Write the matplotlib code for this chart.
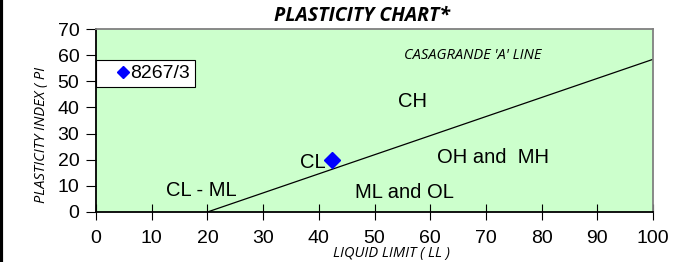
import numpy as np
import matplotlib.pyplot as plt

# sample point
sample_name = '8267/3'
sample_ll = [42.4]
sample_pi = [19.9]

# Casagrande A-line: PI = 0.73 (LL - 20)
aline_ll = [20, 100]
aline_pi = [0, 58.4]

zone_labels = ['CH', 'CL', 'OH and  MH', 'ML and OL', 'CL - ML']
zone_x = [56.8, 39.0, 71.2, 55.3, 18.9]
zone_y = [42.1, 19.1, 21.0, 7.6, 8.4]

xticks = np.arange(0, 101, 10)
yticks = np.arange(0, 71, 10)

plt.rcParams['font.family'] = ['Liberation Sans', 'DejaVu Sans']

fig = plt.figure(figsize=(6.97, 2.62), dpi=100)
ax = fig.add_axes([96/697, 1 - 212/262, 557/697, 183/262])
ax.set_facecolor('#CCFFCC')

ax.plot(aline_ll, aline_pi, color='black', lw=0.9)
ax.plot(sample_ll, sample_pi, 'D', color='#0000FF', ms=8, label=sample_name, zorder=5)

for t, x, y in zip(zone_labels, zone_x, zone_y):
    ax.text(x, y, t, fontsize=14.5, ha='center', va='center')
ax.text(67.7, 60, "CASAGRANDE 'A' LINE", fontsize=10.5, style='italic',
        ha='center', va='center', family='Open Sans')

ax.set_xlim(0, 100)
ax.set_ylim(0, 70)
ax.set_xticks(xticks)
ax.set_yticks(yticks)
ax.tick_params(axis='x', direction='inout', length=12, labelsize=14, pad=7)
ax.tick_params(axis='y', direction='out', length=7, labelsize=14, pad=5)
for s in ['left', 'bottom']:
    ax.spines[s].set_color('black')
    ax.spines[s].set_linewidth(1.3)
for s in ['top', 'right']:
    ax.spines[s].set_color('#808080')
    ax.spines[s].set_linewidth(1.3)

fig.text(362/697, 1 - 16/262, 'PLASTICITY CHART*', fontsize=14, fontweight='bold',
         style='italic', family='Open Sans', ha='center', va='center')
fig.text(391/697, 1 - 253/262, 'LIQUID LIMIT ( LL )', fontsize=10.5, style='italic',
         ha='center', va='center', family='Open Sans')
fig.text(42/697, 1 - 135/262, 'PLASTICITY INDEX ( PI', fontsize=10.5, style='italic',
         ha='center', va='center', rotation=90, family='Open Sans')

leg = ax.legend(loc='upper left', bbox_to_anchor=(0, (212 - 60) / 183), fontsize=14,
                frameon=True, fancybox=False, handlelength=2.3, handletextpad=-0.8,
                borderpad=0.25, borderaxespad=0, markerscale=0.75)
leg.get_frame().set_edgecolor('black')
leg.get_frame().set_linewidth(0.8)
leg.get_frame().set_alpha(1)

# left border line of the sheet
fig.add_artist(plt.Line2D([0.002, 0.002], [0, 1], color='black', lw=3,
                          transform=fig.transFigure))

fig.savefig('out.png', dpi=100)
